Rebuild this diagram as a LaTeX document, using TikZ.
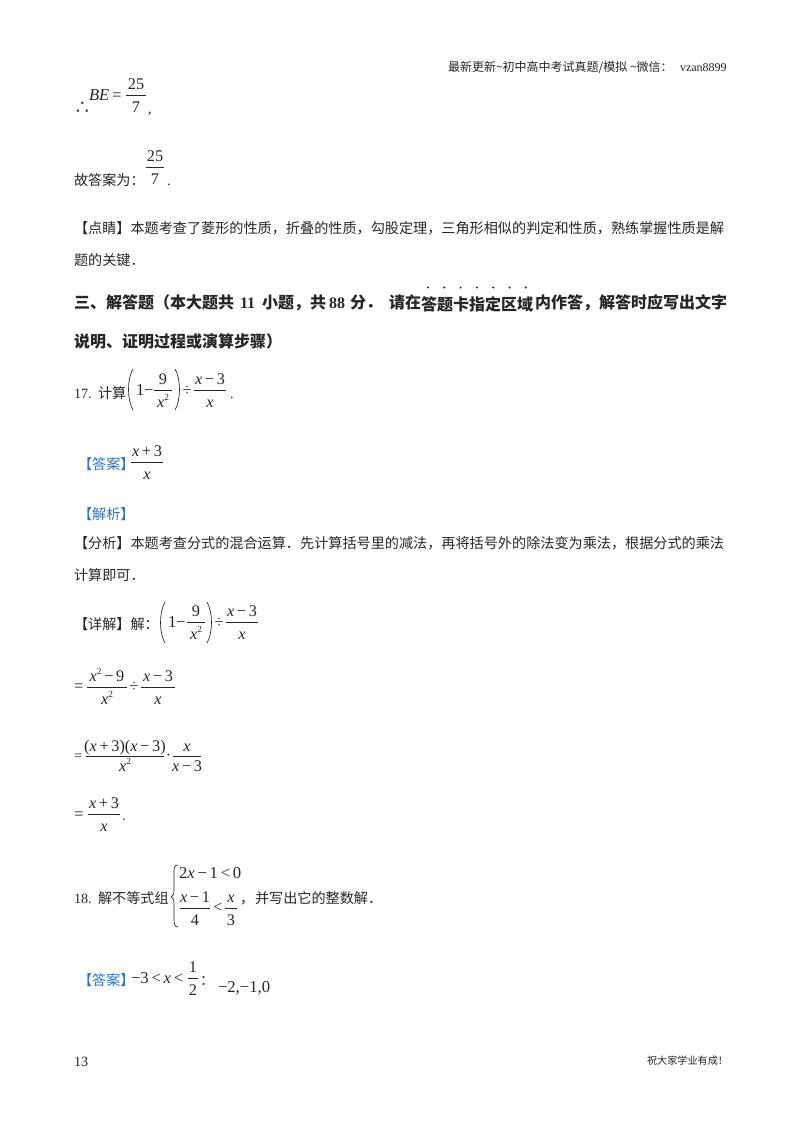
\documentclass[tikz,border=0pt]{standalone}
\usepackage{fontspec}
\setmainfont{Liberation Serif}
\newfontfamily\cjkf{Noto Sans CJK SC}
\newcommand{\C}[1]{{\cjkf #1}}
\definecolor{ink}{gray}{0.15}
\definecolor{ansblue}{RGB}{46,117,182}
\newcount\nc
\newcommand{\vx}{\textit{x}}
\newcommand{\sq}{\raisebox{5pt}{\fontsize{7}{7}\selectfont 2}}
\newcommand{\mn}{\,−\,}
\newcommand{\pl}{\,+\,}
\tikzset{
  txt/.style={anchor=base west,inner sep=0pt,outer sep=0pt,text=ink,font=\fontsize{10.6}{12}\selectfont},
  mth/.style={txt,font=\fontsize{12.5}{14}\selectfont},
  ctr/.style={anchor=base,inner sep=0pt,outer sep=0pt,text=ink,font=\fontsize{12.2}{14}\selectfont},
  head/.style={txt,font=\fontsize{12}{13}\selectfont\bfseries},
  small/.style={txt,font=\fontsize{9}{10}\selectfont},
  tiny/.style={txt,font=\fontsize{7.6}{8}\selectfont},
  blue/.style={txt,text=ansblue},
  bar/.style={draw=ink,line width=0.45pt},
  curve/.style={draw=ink,line width=0.5pt,line cap=round}
}
% left-aligned text at x, baseline y
\newcommand{\T}[4][txt]{\global\advance\nc by 1 \node[#1] (n\the\nc) at (#2,#3) {#4};}
% centred text at x, baseline y
\newcommand{\M}[3]{\global\advance\nc by 1 \node[ctr] (n\the\nc) at (#1,#2) {#3};}
% fraction: centre x, bar y, half width, numerator, denominator
\newcommand{\Fr}[5]{\draw[bar] (#1-#3,#2) -- (#1+#3,#2);\M{#1}{#2-6}{#4}\M{#1}{#2+17}{#5}}
\newcommand{\FrB}[5]{\draw[bar] (#1-#3,#2) -- (#1+#3,#2);\M{#1}{#2-5}{#4}\M{#1}{#2+15}{#5}}
% parentheses: left x (outer), top, bottom, inner x
\newcommand{\LP}[3]{\draw[curve] (#1+6,#2) .. controls (#1,#2+10) and (#1,#3-10) .. (#1+6,#3);}
\newcommand{\RP}[3]{\draw[curve] (#1,#2) .. controls (#1+6,#2+10) and (#1+6,#3-10) .. (#1,#3);}
\begin{document}
\begin{tikzpicture}[x=0.75pt,y=-0.75pt]
\useasboundingbox[fill=white] (0,0) rectangle (800,1132);
% header
\T[small]{448}{71.5}{\C{最新更新\textasciitilde 初中高中考试真题/模拟\ \textasciitilde 微信：}}
\T[small]{680}{71.5}{vzan8899}
% therefore
\T[mth]{74}{113}{\C{∴}}
\T[mth]{89}{100}{\textit{BE}\,=}
\Fr{136}{95}{10}{25}{7}
\T{148}{113}{,}
% answer
\T{74}{185}{\C{故答案为：}}
\Fr{155}{167}{9}{25}{7}
\T{167}{185}{.}
% remark
\T{74}{233}{\C{【点睛】本题考查了菱形的性质，折叠的性质，勾股定理，三角形相似的判定和性质，熟练掌握性质是解}}
\T{74}{265}{\C{题的关键．}}
% heading
\T[head]{74}{308.5}{\C{三、解答题（本大题共}}
\T[head]{240}{308.5}{11}
\T[head]{262}{308.5}{\C{小题，共}}
\T[head]{329}{308.5}{88}
\T[head]{350}{308.5}{\C{分．}}
\T[head]{389}{308.5}{\C{请在}}
\T[head]{421}{310.5}{\C{答题卡指定区域}}
\T[head]{535}{308.5}{\C{内作答，解答时应写出文字}}
\foreach \dx in {428,444.3,460.6,476.9,493.2,509.5,525.8} {\fill[ink] (\dx,287.5) circle (1.1);}
\T[head]{74}{347}{\C{说明、证明过程或演算步骤）}}
% 17
\T{74}{398}{17.}
\T{98}{398}{\C{计算}}
\LP{127}{369}{410}
\T[mth]{136}{395}{1}
\T[mth]{144}{395}{−}
\Fr{163}{390}{9}{9}{\vx\sq}
\RP{175}{369}{410}
\M{187}{395}{÷}
\Fr{210}{390}{16}{\vx\mn3}{\vx}
\T{230}{398}{.}
\T[blue]{78}{469}{\C{【答案】}}
\Fr{147}{462}{16}{\vx\pl3}{\vx}
\T[blue]{78}{519}{\C{【解析】}}
\T{74}{548}{\C{【分析】本题考查分式的混合运算．先计算括号里的减法，再将括号外的除法变为乘法，根据分式的乘法}}
\T{74}{580}{\C{计算即可．}}
\T{74}{629}{\C{【详解】解：}}
\LP{159}{602}{643}
\T[mth]{168}{627}{1}
\T[mth]{176}{627}{−}
\Fr{196}{622}{9}{9}{\vx\sq}
\RP{207}{602}{643}
\M{219}{627}{÷}
\Fr{242}{622}{16}{\vx\mn3}{\vx}
% steps
\T[mth]{74}{691}{=}
\Fr{107}{687}{20}{\vx\sq\mn9}{\vx\sq}
\M{134}{691}{÷}
\Fr{158}{687}{17}{\vx\mn3}{\vx}
\T{74}{760}{=}
\FrB{125}{756}{39}{(\vx\pl3)(\vx\mn3)}{\vx\sq}
\M{168.5}{760}{·}
\FrB{187}{756}{14}{\vx}{\vx\mn3}
\T[mth]{74}{819}{=}
\Fr{104}{814}{16}{\vx\pl3}{\vx}
\T{122}{820}{.}
% 18
\T{74}{903}{18.}
\T{98}{903}{\C{解不等式组}}
\draw[curve] (178,865) .. controls (174,865) and (174,868) .. (174,874) -- (174,890) .. controls (174,895) and (173,896) .. (171,897) .. controls (173,898) and (174,899) .. (174,904) -- (174,918) .. controls (174,925) and (175,927) .. (178,927);
\T[mth]{179}{878}{2\vx\mn1\,<\,0}
\Fr{195}{908}{15}{\vx\mn1}{4}
\M{218}{912}{<}
\Fr{231}{908}{6}{\vx}{3}
\T{240}{903}{\C{，}}
\T{255}{903}{\C{并写出它的整数解．}}
\T[blue]{78}{985}{\C{【答案】}}
\T[mth]{131}{983}{−3\,<\,\vx\,<}
\Fr{193}{978}{5}{1}{2}
\T{200}{985}{\C{：}}
\T[mth]{218}{992}{−2,−1,0}
% footer
\T{74}{1066}{13}
\T[tiny]{647}{1064}{\C{祝大家学业有成！}}
\end{tikzpicture}
\end{document}
